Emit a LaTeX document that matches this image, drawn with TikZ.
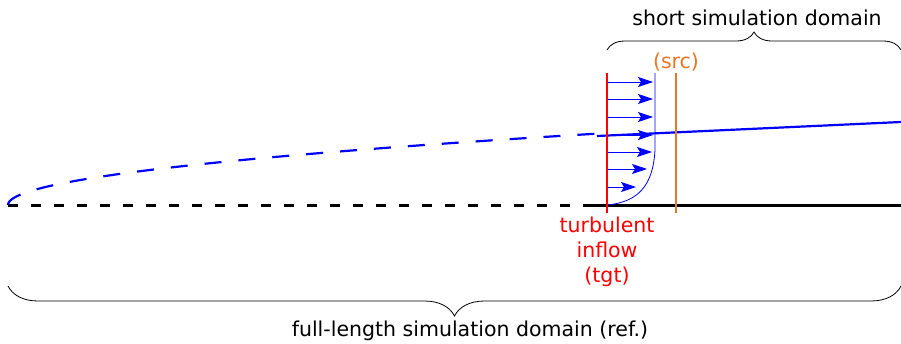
\documentclass[tikz,border=0pt]{standalone}
\usepackage{fontspec}
\setmainfont{DejaVu Sans}
\usepackage{tikz}
\usetikzlibrary{positioning}
\usetikzlibrary{calc}
\usetikzlibrary{arrows.meta}
\usetikzlibrary{decorations.pathreplacing}

\definecolor{srcorange}{RGB}{232,118,36}

\begin{document}
\begin{tikzpicture}[x=1pt, y=-1pt, font=\fontsize{20.5}{25}\selectfont,
    plate/.style={line width=3pt},
    layer/.style={blue, line width=2.2pt},
    vel/.style={blue, line width=0.9pt, -{Stealth[length=15pt,width=10pt,inset=3pt]}},
    bracket/.style={decorate, decoration={brace, amplitude=#1}, line width=0.8pt}]
    \useasboundingbox (0,0) rectangle (901,343);

    % plate and inflow planes
    \coordinate (le) at (8,205);
    \coordinate (pm) at (593,205);
    \coordinate (te) at (901,205);
    \coordinate (tgttop) at (607,73);
    \coordinate (tgtbot) at (607,213);
    \coordinate (srctop) at (676,73);
    \coordinate (srcbot) at (676,213);
    \coordinate (wall) at (607,205);
    \coordinate (edge) at (655,73);

    % boundary layer edge
    \coordinate (bls) at (597,136);
    \coordinate (ble) at (901,122);

    \draw[plate, dash pattern=on 10pt off 13pt] (le) -- (pm);
    \draw[plate] (pm) -- (te);

    \draw[layer, dash pattern=on 17pt off 17pt] plot[domain=0:24.3, samples=50] ({8+\x*\x},{205-2.94*\x});
    \draw[layer] (bls) -- (ble);

    \draw[srcorange, line width=1.5pt] (srctop) -- (srcbot);
    \node[srcorange, above=-2pt of srctop] (srclbl) {(src)};

    % velocity profile
    \draw[blue, line width=0.8pt] (wall) .. controls (638,202) and (653,186) .. (655,150) -- (edge);
    \foreach \i/\y/\x in {1/82/653, 2/99/653, 3/117/653, 4/135/653, 5/152/652, 6/169/647, 7/187/636}{
        \coordinate (a\i) at (607,\y);
        \coordinate (b\i) at (\x,\y);
        \draw[vel] (a\i) -- (b\i);
    }

    \draw[red, line width=1.5pt] (tgttop) -- (tgtbot);
    \node[red, align=center, below=0pt of tgtbot] (tgtlbl) {turbulent\\inflow\\(tgt)};

    % domains
    \coordinate (s1) at (607,50);
    \coordinate (s2) at (901,50);
    \coordinate (f1) at (8,286);
    \coordinate (f2) at (901,286);
    \draw[bracket=18pt] (s1) -- (s2);
    \draw[bracket=30pt] (f2) -- (f1);
    \node (short) at (757,18) {short simulation domain};
    \node (full) at (470,331) {full-length simulation domain (ref.)};
\end{tikzpicture}
\end{document}
